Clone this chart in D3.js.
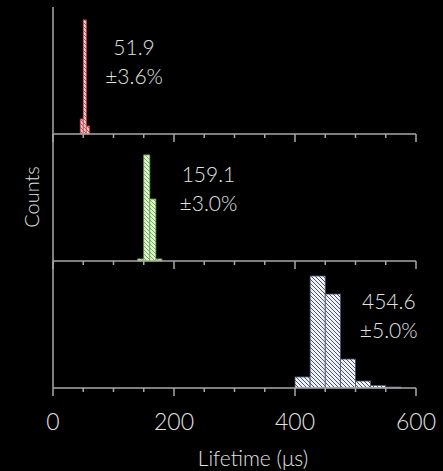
<!DOCTYPE html>
<html>
<head>
<meta charset="utf-8">
<script src="https://cdn.jsdelivr.net/npm/d3@7"></script>
<style>
  body { margin: 0; background: #000; }
  svg { display: block; font-family: Lato, 'Open Sans', sans-serif; font-weight: 300; }
</style>
</head>
<body>
<svg id="chart"></svg>
<script>
// lifetime histograms, counts normalised so each panel's top = 1000
const redBins = [45, 50, 55]
const redCounts = [118, 898, 63]
const greenBins = [140, 150, 160, 170]
const greenCounts = [16, 835, 488, 16]
const blueBins = [400, 425, 450, 475, 500, 525, 550]
const blueCounts = [87, 882, 740, 228, 55, 20, 8]
const binWidths = [5, 10, 25]

const means = ['51.9', '159.1', '454.6']
const errors = ['±3.6%', '±3.0%', '±5.0%']
const xTicks = [0, 200, 400, 600]

const width = 443
const height = 471
const margin = { top: 7, left: 53, right: 27 }
const panelH = 127

const panels = [
  { bins: redBins, counts: redCounts, fill: '#f7cfd2', stroke: '#d4474f', labelAt: 134 },
  { bins: greenBins, counts: greenCounts, fill: '#dff3cf', stroke: '#72ad55', labelAt: 257 },
  { bins: blueBins, counts: blueCounts, fill: '#eef0fb', stroke: '#4d5568', labelAt: 555 }
]

const svg = d3.select('#chart')
  .attr('width', width)
  .attr('height', height)

svg.append('rect').attr('width', width).attr('height', height).attr('fill', '#000')

const xScale = d3.scaleLinear()
  .domain([0, 600])
  .range([margin.left, width - margin.right])

const yScale = d3.scaleLinear()
  .domain([0, 1000])
  .range([panelH, 0])

// hatch patterns
const defs = svg.append('defs')
panels.forEach((p, i) => {
  const pat = defs.append('pattern')
    .attr('id', 'hatch' + i)
    .attr('patternUnits', 'userSpaceOnUse')
    .attr('width', 4)
    .attr('height', 4)
  pat.append('rect').attr('width', 4).attr('height', 4).attr('fill', p.fill)
  pat.append('path')
    .attr('d', 'M0,0L4,4M-1,3L1,5M3,-1L5,1')
    .attr('stroke', p.stroke)
    .attr('stroke-width', 1)
})

const axisColor = '#a8a8a8'
const textColor = '#e2e2e2'

panels.forEach((p, i) => {
  const g = svg.append('g')
    .attr('transform', `translate(0, ${margin.top + i * panelH})`)

  const bw = binWidths[i]
  g.selectAll('rect.bar')
    .data(p.bins.map((b, j) => ({ x0: b, x1: b + bw, n: p.counts[j] })))
    .join('rect')
    .attr('class', 'bar')
    .attr('x', d => xScale(d.x0))
    .attr('width', d => xScale(d.x1) - xScale(d.x0))
    .attr('y', d => yScale(d.n))
    .attr('height', d => panelH - yScale(d.n))
    .attr('fill', `url(#hatch${i})`)
    .attr('stroke', p.stroke)
    .attr('stroke-width', 0.8)

  // bottom axis of each panel: minor ticks every 50, major every 200
  const ax = g.append('g').attr('transform', `translate(0, ${panelH})`)
  ax.append('line')
    .attr('x1', xScale(0)).attr('x2', xScale(600))
    .attr('stroke', axisColor).attr('stroke-width', 1.5)
  ax.selectAll('line.tick')
    .data(d3.range(0, 601, 50))
    .join('line')
    .attr('class', 'tick')
    .attr('x1', d => xScale(d)).attr('x2', d => xScale(d))
    .attr('y1', 0)
    .attr('y2', d => d % 200 === 0 ? 8 : 4)
    .attr('stroke', axisColor).attr('stroke-width', 1.5)

  g.append('text')
    .attr('x', xScale(p.labelAt))
    .attr('y', 48)
    .attr('text-anchor', 'middle')
    .attr('fill', textColor)
    .attr('font-size', 21)
    .text(means[i])
  g.append('text')
    .attr('x', xScale(p.labelAt))
    .attr('y', 77)
    .attr('text-anchor', 'middle')
    .attr('fill', textColor)
    .attr('font-size', 21)
    .text(errors[i])
})

// left spine
svg.append('line')
  .attr('x1', xScale(0)).attr('x2', xScale(0))
  .attr('y1', margin.top).attr('y2', margin.top + 3 * panelH)
  .attr('stroke', axisColor).attr('stroke-width', 1.5)

const bottom = margin.top + 3 * panelH
svg.selectAll('text.xtick')
  .data(xTicks)
  .join('text')
  .attr('class', 'xtick')
  .attr('x', d => xScale(d))
  .attr('y', bottom + 42)
  .attr('text-anchor', 'middle')
  .attr('fill', textColor)
  .attr('font-size', 23)
  .text(d => d)

svg.append('text')
  .attr('x', 253)
  .attr('y', 466)
  .attr('text-anchor', 'middle')
  .attr('fill', textColor)
  .attr('font-size', 21)
  .text('Lifetime (μs)')

svg.append('text')
  .attr('transform', `translate(39, ${197}) rotate(-90)`)
  .attr('text-anchor', 'middle')
  .attr('fill', textColor)
  .attr('font-size', 20)
  .text('Counts')
</script>
</body>
</html>
